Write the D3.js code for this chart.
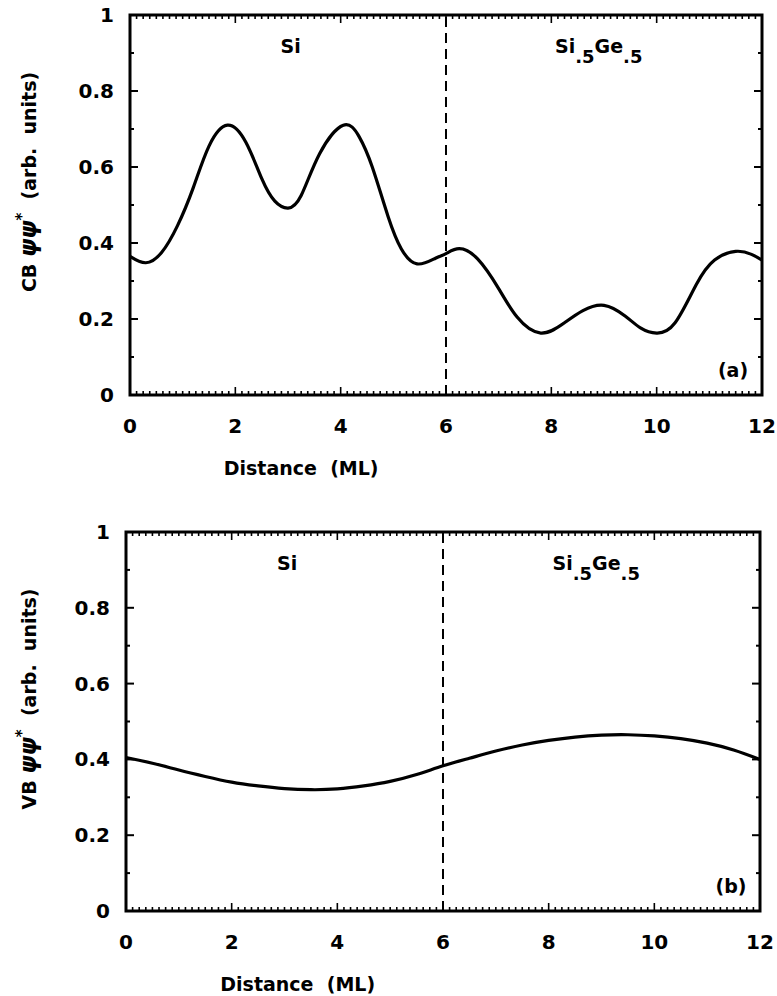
<!DOCTYPE html>
<html>
<head>
<meta charset="utf-8">
<script src="https://cdn.jsdelivr.net/npm/d3@7"></script>
<style>
  body { margin: 0; background: #fff; }
  text { font-family: "DejaVu Sans", sans-serif; font-weight: bold; fill: #000; }
</style>
</head>
<body>
<svg width="777" height="996"></svg>
<script>
// conduction band (a)
const cbX = [0, 0.3, 0.6, 0.9, 1.2, 1.5, 1.85, 2.2, 2.5, 2.75, 3.0, 3.25, 3.6, 4.05, 4.35, 4.6, 4.9, 5.15, 5.45, 5.8, 6.0, 6.25, 6.6, 7.0, 7.35, 7.8, 8.25, 8.6, 9.0, 9.4, 9.7, 10.0, 10.35, 10.75, 11.1, 11.5, 11.8, 12.0];
const cbY = [0.365, 0.348, 0.375, 0.445, 0.545, 0.655, 0.71, 0.665, 0.57, 0.51, 0.492, 0.525, 0.635, 0.71, 0.68, 0.6, 0.47, 0.385, 0.345, 0.36, 0.372, 0.385, 0.358, 0.28, 0.205, 0.163, 0.19, 0.222, 0.236, 0.208, 0.176, 0.163, 0.19, 0.29, 0.355, 0.378, 0.37, 0.355];
// valence band (b)
const vbX = [0, 0.5, 1, 1.5, 2, 2.5, 3, 3.5, 4, 4.5, 5, 5.5, 6, 6.5, 7, 7.5, 8, 8.5, 9, 9.5, 10, 10.5, 11, 11.5, 12];
const vbY = [0.405, 0.39, 0.372, 0.355, 0.34, 0.33, 0.323, 0.32, 0.322, 0.33, 0.342, 0.36, 0.383, 0.403, 0.422, 0.438, 0.45, 0.459, 0.464, 0.465, 0.462, 0.455, 0.443, 0.425, 0.4];

const xTicks = [0, 2, 4, 6, 8, 10, 12];
const yTicks = [0, 0.2, 0.4, 0.6, 0.8, 1];
const yTickLabels = ['0', '0.2', '0.4', '0.6', '0.8', '1'];
const interfaceX = 6;

const svg = d3.select('svg');

function panel(opt) {
    const x = d3.scaleLinear().domain([0, 12]).range([opt.left, opt.right]);
    const y = d3.scaleLinear().domain([0, 1]).range([opt.bottom, opt.top]);
    const g = svg.append('g');

    // minor + major ticks, pointing inward on all four sides
    d3.range(0, 12.0001, 0.125).forEach(v => {
        const major = xTicks.some(t => Math.abs(t - v) < 1e-6);
        const len = major ? 8 : 4;
        g.append('line').attr('x1', x(v)).attr('x2', x(v))
            .attr('y1', y(0)).attr('y2', y(0) - len)
            .attr('stroke', '#000').attr('stroke-width', 1.6);
        g.append('line').attr('x1', x(v)).attr('x2', x(v))
            .attr('y1', y(1)).attr('y2', y(1) + len)
            .attr('stroke', '#000').attr('stroke-width', 1.6);
    });
    d3.range(0, 1.0001, 0.1).forEach(v => {
        const major = Math.abs(Math.round(v * 5) - v * 5) < 1e-6;
        const len = major ? 8 : 4;
        g.append('line').attr('x1', x(0)).attr('x2', x(0) + len)
            .attr('y1', y(v)).attr('y2', y(v))
            .attr('stroke', '#000').attr('stroke-width', 2);
        g.append('line').attr('x1', x(12)).attr('x2', x(12) - len)
            .attr('y1', y(v)).attr('y2', y(v))
            .attr('stroke', '#000').attr('stroke-width', 2);
    });

    // frame
    g.append('rect')
        .attr('x', x(0)).attr('y', y(1))
        .attr('width', x(12) - x(0)).attr('height', y(0) - y(1))
        .attr('fill', 'none').attr('stroke', '#000').attr('stroke-width', 3);

    // tick labels
    g.selectAll('.xl').data(xTicks).enter().append('text')
        .attr('x', d => x(d)).attr('y', y(0) + 38)
        .attr('text-anchor', 'middle').attr('font-size', 20)
        .text(d => d);
    g.selectAll('.yl').data(yTicks).enter().append('text')
        .attr('x', x(0) - 16).attr('y', d => y(d) + 7)
        .attr('text-anchor', 'end').attr('font-size', 20)
        .text((d, i) => yTickLabels[i]);

    // interface
    g.append('line')
        .attr('x1', x(interfaceX)).attr('x2', x(interfaceX))
        .attr('y1', y(0)).attr('y2', y(1))
        .attr('stroke', '#000').attr('stroke-width', 2)
        .attr('stroke-dasharray', '10,6');

    // curve
    const line = d3.line()
        .x(d => x(d[0])).y(d => y(d[1]))
        .curve(d3.curveNatural);
    g.append('path')
        .datum(opt.xs.map((v, i) => [v, opt.ys[i]]))
        .attr('d', line)
        .attr('fill', 'none').attr('stroke', '#000').attr('stroke-width', 3.2);

    // region labels
    g.append('text').attr('x', x(3.05)).attr('y', y(1) + 38)
        .attr('text-anchor', 'middle').attr('font-size', 19).text('Si');
    const sg = g.append('text').attr('x', x(8.9)).attr('y', y(1) + 38)
        .attr('text-anchor', 'middle').attr('font-size', 19);
    sg.append('tspan').text('Si');
    sg.append('tspan').attr('dy', 10).attr('font-size', 18).text('.5');
    sg.append('tspan').attr('dy', -10).text('Ge');
    sg.append('tspan').attr('dy', 10).attr('font-size', 18).text('.5');

    // panel tag
    g.append('text').attr('x', x(11.45)).attr('y', y(0) - 18)
        .attr('text-anchor', 'middle').attr('font-size', 19).text(opt.tag);

    // axis titles
    g.append('text').attr('x', x(3.25)).attr('y', y(0) + 80)
        .attr('text-anchor', 'middle').attr('font-size', 19)
        .attr('xml:space', 'preserve').text('Distance  (ML)');
    const yt = g.append('text')
        .attr('transform', `translate(36,${opt.titleY}) rotate(-90)`)
        .attr('text-anchor', 'middle').attr('font-size', 19)
        .attr('xml:space', 'preserve');
    yt.append('tspan').text(opt.band + ' ');
    yt.append('tspan').attr('font-style', 'italic').attr('font-size', 23).text('\u03C8\u03C8');
    yt.append('tspan').attr('dy', -9).attr('font-size', 15).text('*');
    yt.append('tspan').attr('dy', 9).text('  (arb.  units)');
}

panel({left: 130, right: 762, top: 15, bottom: 395, xs: cbX, ys: cbY, tag: '(a)', band: 'CB', titleY: 182});
panel({left: 126, right: 760, top: 532, bottom: 911, xs: vbX, ys: vbY, tag: '(b)', band: 'VB', titleY: 699});
</script>
</body>
</html>
